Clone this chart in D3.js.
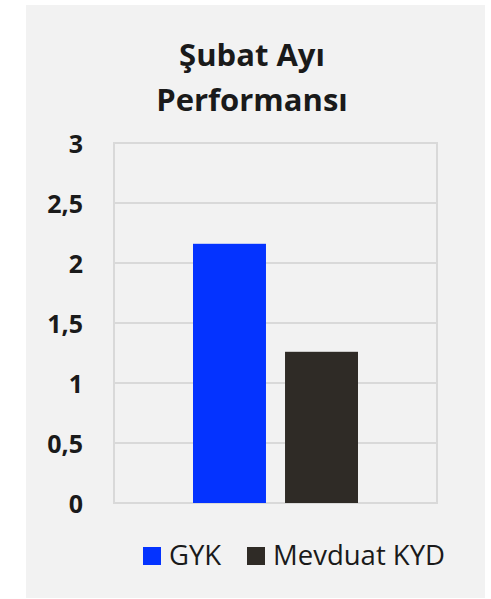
<!DOCTYPE html>
<html>
<head>
<meta charset="utf-8">
<script src="https://cdn.jsdelivr.net/npm/d3@7"></script>
<style>
  body { margin: 0; background: #fff; }
  text { font-family: "Open Sans", sans-serif; }
</style>
</head>
<body>
<script>
const categories = ['Şubat']
const seriesNames = ['GYK', 'Mevduat KYD']
const seriesValues = [2.16, 1.26]
const seriesColors = ['#0433ff', '#2f2b26']
const yTicks = [0, 0.5, 1, 1.5, 2, 2.5, 3]
const titleLines = ['Şubat Ayı', 'Performansı']

const W = 491
const H = 599
const margin = { top: 143, right: 54, bottom: 96, left: 114 }
const w = W - margin.left - margin.right
const h = H - margin.top - margin.bottom

const svg = d3.select('body').append('svg')
  .attr('width', W)
  .attr('height', H)

svg.append('rect')
  .attr('x', 26).attr('y', 5)
  .attr('width', 459).attr('height', 593)
  .attr('fill', '#f2f2f2')

svg.append('text')
  .attr('x', 252).attr('y', 66)
  .attr('text-anchor', 'middle')
  .attr('font-size', 31).attr('font-weight', 700)
  .attr('fill', '#1a1a1a')
  .selectAll('tspan')
  .data(titleLines)
  .join('tspan')
  .attr('x', 252)
  .attr('dy', (d, i) => i === 0 ? 0 : 45)
  .text(d => d)

const g = svg.append('g')
  .attr('transform', 'translate(' + margin.left + ',' + margin.top + ')')

const y = d3.scaleLinear().domain([0, 3]).range([h, 0])
const x0 = d3.scaleBand().domain(categories).range([0, w])
const x1 = d3.scaleBand().domain(seriesNames)
  .range([79, 244]).paddingInner(0.207)

// gridlines
g.append('g')
  .selectAll('line')
  .data(yTicks)
  .join('line')
  .attr('x1', 0).attr('x2', w)
  .attr('y1', d => y(d)).attr('y2', d => y(d))
  .attr('stroke', '#d9d9d9').attr('stroke-width', 2)

g.append('rect')
  .attr('x', 0).attr('y', 0)
  .attr('width', w).attr('height', h)
  .attr('fill', 'none')
  .attr('stroke', '#d9d9d9').attr('stroke-width', 2)

// bars
g.append('g')
  .selectAll('rect')
  .data(seriesValues.map((v, i) => ({ name: seriesNames[i], value: v, color: seriesColors[i] })))
  .join('rect')
  .attr('x', d => x0(categories[0]) + x1(d.name))
  .attr('width', x1.bandwidth())
  .attr('y', d => y(d.value))
  .attr('height', d => h - y(d.value))
  .attr('fill', d => d.color)

// y axis
const fmt = d => String(d).replace('.', ',')
const yAxis = g.append('g')
  .attr('transform', 'translate(-31,0)')
  .call(d3.axisLeft(y).tickValues(yTicks).tickFormat(fmt).tickSize(0).tickPadding(0))
yAxis.select('.domain').remove()
yAxis.selectAll('text')
  .attr('font-family', '"Open Sans", sans-serif')
  .attr('font-size', 25).attr('font-weight', 700)
  .attr('fill', '#1a1a1a')
  .attr('dy', '0.36em')

// legend
const legendX = [143, 247]
const legend = svg.append('g')
  .selectAll('g')
  .data(seriesNames)
  .join('g')
  .attr('transform', (d, i) => 'translate(' + legendX[i] + ',547)')
legend.append('rect')
  .attr('width', 18).attr('height', 18)
  .attr('fill', (d, i) => seriesColors[i])
legend.append('text')
  .attr('x', 26).attr('y', 18)
  .attr('font-size', 27.5)
  .attr('fill', '#1a1a1a')
  .text(d => d)
</script>
</body>
</html>
